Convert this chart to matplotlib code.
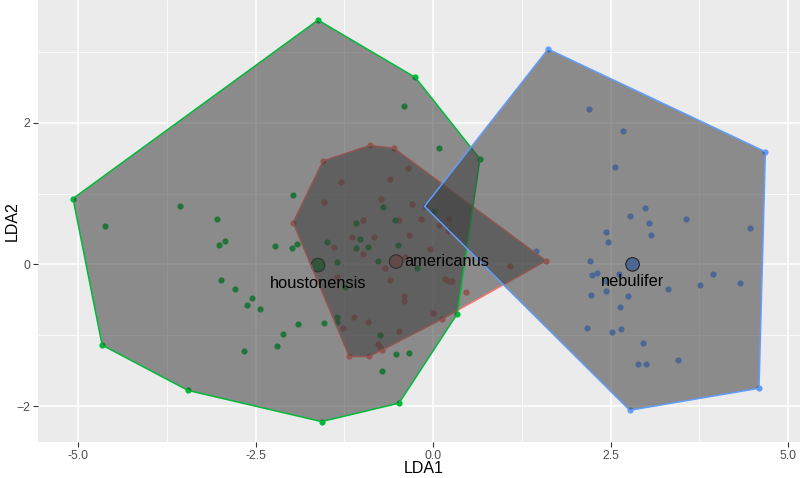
import numpy as np
import matplotlib.pyplot as plt

plt.rcParams['font.family'] = ['Liberation Sans', 'DejaVu Sans']

species = ['americanus', 'houstonensis', 'nebulifer']
colores = ['#F8766D', '#00BA38', '#619CFF']

# puntajes LDA
hou_x = [-5.07, -3.56, -3.04, -1.97, -4.62, -2.93, -3.02, -2.22, -1.98, -1.92,
         -2.98, -2.79, -2.55, -2.62, -2.43, -1.90, -2.12, -2.20, -2.66, -4.66,
         -3.45, -1.57, -0.48, 0.34, 0.66, -0.25, -1.62, -0.41, 0.09, -0.71,
         0.01, -1.08, -0.53, -1.03, -1.49, -1.08, -0.92, -0.49, -1.35, -0.78,
         -0.22, -1.24, -1.35, -1.35, -1.53, -0.75, -0.52, -0.34, -0.72]
hou_y = [0.93, 0.83, 0.64, 0.98, 0.54, 0.33, 0.27, 0.26, 0.23, 0.29,
         -0.22, -0.35, -0.48, -0.57, -0.63, -0.84, -0.99, -1.15, -1.22, -1.14,
         -1.78, -2.22, -1.96, -0.70, 1.49, 2.64, 3.45, 2.23, 1.65, 0.81,
         0.76, 0.58, 0.63, 0.36, 0.32, 0.23, 0.25, 0.28, 0.03, 0.05,
         -0.05, -0.32, -0.75, -0.82, -0.83, -1.00, -1.27, -1.25, -1.50]

ame_x = [-1.97, -0.89, -0.55, -1.55, -0.35, -1.30, -0.61, -0.73, -1.54, -0.30,
         -0.17, 0.23, 0.08, 0.21, -0.98, -0.48, -1.14, -0.83, -0.34, -1.39,
         -0.04, -0.98, -0.39, 1.09, 1.59, -0.67, -1.35, -0.61, 0.17, 0.22,
         0.27, -0.41, -0.41, 0.47, -1.11, -0.91, -1.27, 0.00, 0.13, -0.48,
         -0.78, -0.75, -0.72, -1.18, -0.90]
ame_y = [0.59, 1.68, 1.64, 1.46, 1.36, 1.16, 1.21, 0.93, 0.88, 0.85,
         0.64, 0.64, 0.55, 0.47, 0.63, 0.63, 0.39, 0.38, 0.41, 0.25,
         0.22, 0.15, 0.11, -0.02, 0.05, -0.05, -0.18, -0.22, -0.21, -0.23,
         -0.23, -0.44, -0.52, -0.39, -0.74, -0.82, -0.90, -0.68, -0.77, -0.94,
         -1.13, -1.16, -1.21, -1.30, -1.30]

neb_x = [1.62, 4.68, 2.19, 2.68, 2.56, 2.99, 2.77, 3.04, 3.56, 4.46,
         2.44, 3.07, 2.47, 1.45, -0.12, 2.21, 2.24, 2.31, 2.62, 2.44,
         3.94, 3.76, 4.32, 3.31, 2.43, 2.22, 2.74, 2.63, 2.17, 2.52,
         2.65, 2.96, 2.89, 3.00, 3.45, 4.59, 2.77]
neb_y = [3.04, 1.59, 2.20, 1.89, 1.37, 0.80, 0.69, 0.59, 0.64, 0.51,
         0.46, 0.41, 0.32, 0.19, 0.82, 0.05, -0.15, -0.12, -0.13, -0.24,
         -0.13, -0.29, -0.26, -0.35, -0.37, -0.43, -0.44, -0.60, -0.90, -0.95,
         -0.91, -1.11, -1.40, -1.41, -1.35, -1.75, -2.06]

# centroides de cada especie
cen_x = [-0.52, -1.62, 2.81]
cen_y = [0.04, -0.01, 0.00]

grupos_x = [ame_x, hou_x, neb_x]
grupos_y = [ame_y, hou_y, neb_y]


def envolvente(px, py):
    pts = sorted(zip(px, py))

    def cruz(o, a, b):
        return (a[0] - o[0]) * (b[1] - o[1]) - (a[1] - o[1]) * (b[0] - o[0])

    inf = []
    for p in pts:
        while len(inf) >= 2 and cruz(inf[-2], inf[-1], p) <= 0:
            inf.pop()
        inf.append(p)
    sup = []
    for p in reversed(pts):
        while len(sup) >= 2 and cruz(sup[-2], sup[-1], p) <= 0:
            sup.pop()
        sup.append(p)
    return np.array(inf[:-1] + sup[:-1])


fig = plt.figure(figsize=(8, 4.78), dpi=100)
ax = fig.add_axes([0.048, 0.076, 0.952, 0.924])
ax.set_facecolor('#EBEBEB')

for gx, gy, col in zip(grupos_x, grupos_y, colores):
    ax.scatter(gx, gy, s=20, color=col, linewidths=0, zorder=2)

ax.scatter(cen_x, cen_y, s=95, c=colores, edgecolors='black', linewidths=0.8, zorder=2)

for gx, gy, col in zip(grupos_x, grupos_y, colores):
    h = envolvente(gx, gy)
    ax.fill(h[:, 0], h[:, 1], facecolor=(0.24, 0.24, 0.24, 0.55),
            edgecolor=col, linewidth=1.1, zorder=3)

ax.annotate('americanus', (cen_x[0], cen_y[0]), xytext=(6, 0), textcoords='offset points',
            ha='left', va='center', fontsize=11.8, zorder=5)
ax.annotate('houstonensis', (cen_x[1], cen_y[1]), xytext=(0, -13), textcoords='offset points',
            ha='center', va='center', fontsize=11.8, zorder=5)
ax.annotate('nebulifer', (cen_x[2], cen_y[2]), xytext=(0, -12), textcoords='offset points',
            ha='center', va='center', fontsize=11.8, zorder=5)

todos_x = hou_x + ame_x + neb_x
todos_y = hou_y + ame_y + neb_y
rx = max(todos_x) - min(todos_x)
ry = max(todos_y) - min(todos_y)
ax.set_xlim(min(todos_x) - 0.05 * rx, max(todos_x) + 0.05 * rx)
ax.set_ylim(min(todos_y) - 0.05 * ry, max(todos_y) + 0.05 * ry)

ax.set_xticks([-5, -2.5, 0, 2.5, 5])
ax.set_xticklabels(['-5.0', '-2.5', '0.0', '2.5', '5.0'])
ax.set_yticks([-2, 0, 2])
ax.set_xticks([-3.75, -1.25, 1.25, 3.75], minor=True)
ax.set_yticks([-1, 1, 3], minor=True)
ax.grid(which='major', color='white', linewidth=1.1, zorder=0)
ax.grid(which='minor', color='white', linewidth=0.55, zorder=0)
ax.set_axisbelow(True)
for s in ax.spines.values():
    s.set_visible(False)
ax.tick_params(which='major', length=3.7, width=0.8, color='#333333',
               labelcolor='#4D4D4D', labelsize=8.8, pad=2)
ax.tick_params(which='minor', length=0)

ax.set_xlabel('LDA1', fontsize=11.5)
ax.set_ylabel('LDA2', fontsize=11.5)
ax.xaxis.set_label_coords(0.5065, -0.044)
ax.yaxis.set_label_coords(-0.025, 0.5)

fig.savefig('out.png', dpi=100)
